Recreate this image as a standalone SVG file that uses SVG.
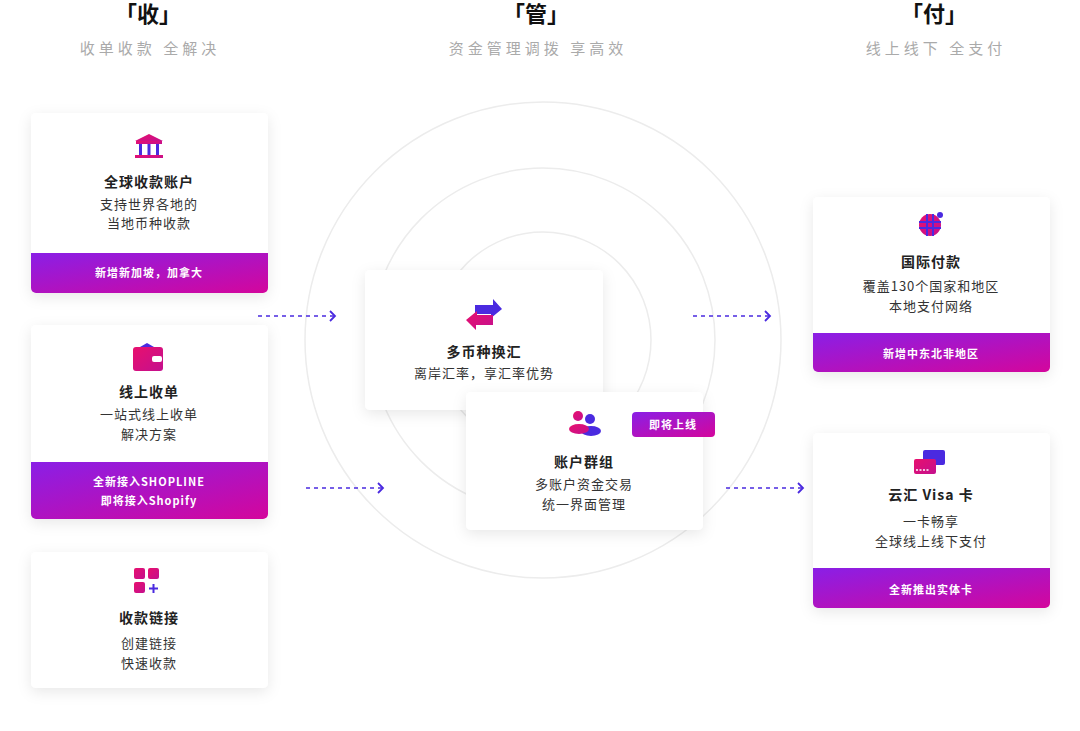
<svg xmlns="http://www.w3.org/2000/svg" width="1080" height="731" viewBox="0 0 1080 731">
<defs>
<linearGradient id="g" x1="0" y1="0" x2="1" y2="1"><stop offset="0" stop-color="#8a1fe6"/><stop offset="1" stop-color="#d4069c"/></linearGradient>
<linearGradient id="ic" x1="0" y1="0" x2="1" y2="1"><stop offset="0" stop-color="#e8106e"/><stop offset="1" stop-color="#c4108e"/></linearGradient>
<filter id="sh" x="-20%" y="-20%" width="140%" height="150%"><feDropShadow dx="0" dy="4" stdDeviation="7" flood-color="#000" flood-opacity="0.09"/></filter>
<marker id="ar" markerWidth="10" markerHeight="12" refX="7" refY="6" orient="auto" markerUnits="userSpaceOnUse"><path d="M2,1 L7,6 L2,11" fill="none" stroke="#4a2ae0" stroke-width="1.8"/></marker>
<style>
text{font-family:"Noto Sans CJK SC","Noto Sans",sans-serif;text-anchor:middle}
.h{font-size:22px;font-weight:700;fill:#111}
.s{font-size:15px;fill:#aaa;letter-spacing:4px}
.t{font-size:14px;font-weight:700;fill:#222;letter-spacing:1px}
.d{font-size:13px;fill:#333;letter-spacing:1px}
.f{font-size:11px;font-weight:700;fill:#fff;letter-spacing:1px}
.c{fill:#fff;filter:url(#sh)}
.r{fill:none;stroke:#ececec;stroke-width:1.5}
.cn{stroke:#4a2ae0;stroke-width:1.5;stroke-dasharray:4 4;fill:none;marker-end:url(#ar)}
</style>
</defs>
<rect width="1080" height="731" fill="#fff"/>
<g id="headers">
<text class="h" x="148" y="22">「收」</text><text class="s" x="150" y="54">收单收款 全解决</text>
<text class="h" x="536" y="22">「管」</text><text class="s" x="538" y="54">资金管理调拨 享高效</text>
<text class="h" x="934" y="22">「付」</text><text class="s" x="936" y="54">线上线下 全支付</text>
</g>
<g id="rings"><circle class="r" cx="543" cy="340" r="238"/><circle class="r" cx="543" cy="340" r="172"/><circle class="r" cx="543" cy="340" r="108"/></g>
<g id="connectors">
<path class="cn" d="M258,316 H335"/><path class="cn" d="M306,488 H383"/>
<path class="cn" d="M693,316 H770"/><path class="cn" d="M726,488 H803"/>
</g>
<g id="n1"><rect class="c" x="31" y="113" width="237" height="180" rx="5"/>
<path d="M31,253 H268 V288 a5,5 0 0 1 -5,5 H36 a5,5 0 0 1 -5,-5 Z" fill="url(#g)"/>
<path d="M135,141 L149,134 L163,141 Z" fill="url(#ic)"/><rect x="136" y="141" width="26" height="3" fill="url(#ic)"/><rect x="139" y="144" width="3" height="11" fill="#4a2ae0"/><rect x="147.5" y="144" width="3" height="11" fill="#4a2ae0"/><rect x="156" y="144" width="3" height="11" fill="#4a2ae0"/><rect x="135" y="155" width="28" height="3" fill="url(#ic)"/>
<text class="t" x="149" y="187">全球收款账户</text><text class="d" x="149" y="209">支持世界各地的</text><text class="d" x="149" y="228">当地币种收款</text>
<text class="f" x="149" y="277">新增新加坡，加拿大</text></g>
<g id="n2"><rect class="c" x="31" y="325" width="237" height="194" rx="5"/>
<path d="M31,462 H268 V514 a5,5 0 0 1 -5,5 H36 a5,5 0 0 1 -5,-5 Z" fill="url(#g)"/>
<rect x="133" y="347" width="30" height="24" rx="3" fill="url(#ic)"/><path d="M140,347 L147,343 L154,347Z" fill="#4a2ae0"/><rect x="152" y="356" width="10" height="6" rx="2" fill="#fff"/>
<text class="t" x="149" y="397">线上收单</text><text class="d" x="149" y="419">一站式线上收单</text><text class="d" x="149" y="439">解决方案</text>
<text class="f" x="149" y="486">全新接入SHOPLINE</text><text class="f" x="149" y="505">即将接入Shopify</text></g>
<g id="n3"><rect class="c" x="31" y="552" width="237" height="136" rx="5"/>
<rect x="134" y="568" width="11" height="11" rx="2" fill="url(#ic)"/><rect x="148" y="568" width="11" height="11" rx="2" fill="url(#ic)"/><rect x="134" y="582" width="11" height="11" rx="2" fill="url(#ic)"/><path d="M153.5,584 V593 M149,588.5 H158" stroke="#4a2ae0" stroke-width="2"/>
<text class="t" x="149" y="623">收款链接</text><text class="d" x="149" y="648">创建链接</text><text class="d" x="149" y="668">快速收款</text></g>
<g id="n4"><rect class="c" x="365" y="270" width="238" height="140" rx="5"/>
<path d="M475,305 H493 V299 L502,309 L491,318 V314 H475Z" fill="#4a2ae0"/><path d="M493,315 H477 V311 L466,320 L476,330 V325 H493Z" fill="url(#ic)"/>
<text class="t" x="484" y="357">多币种换汇</text><text class="d" x="484" y="378">离岸汇率，享汇率优势</text></g>
<g id="n5"><rect class="c" x="466" y="392" width="237" height="138" rx="5"/>
<circle cx="578" cy="416" r="5" fill="url(#ic)"/><circle cx="590" cy="419" r="5" fill="#4a2ae0"/><ellipse cx="591" cy="431" rx="10" ry="5" fill="#4a2ae0"/><ellipse cx="579" cy="429" rx="10" ry="5" fill="url(#ic)"/>
<text class="t" x="584" y="467">账户群组</text><text class="d" x="584" y="489">多账户资金交易</text><text class="d" x="584" y="509">统一界面管理</text>
<g id="badge"><rect x="632" y="412" width="83" height="25" rx="4" fill="url(#g)"/><text class="f" x="673" y="429">即将上线</text></g></g>
<g id="n6"><rect class="c" x="813" y="197" width="237" height="175" rx="5"/>
<path d="M813,333 H1050 V367 a5,5 0 0 1 -5,5 H818 a5,5 0 0 1 -5,-5 Z" fill="url(#g)"/>
<circle cx="930" cy="225" r="11" fill="url(#ic)"/><path d="M919,222 H941 M919,228 H941 M927,214 V236 M933,214 V236" stroke="#4a2ae0" stroke-width="2"/><circle cx="940" cy="215" r="3" fill="#4a2ae0"/>
<text class="t" x="931" y="267">国际付款</text><text class="d" x="931" y="291">覆盖130个国家和地区</text><text class="d" x="931" y="311">本地支付网络</text>
<text class="f" x="931" y="358">新增中东北非地区</text></g>
<g id="n7"><rect class="c" x="813" y="433" width="237" height="175" rx="5"/>
<path d="M813,568 H1050 V603 a5,5 0 0 1 -5,5 H818 a5,5 0 0 1 -5,-5 Z" fill="url(#g)"/>
<rect x="923" y="450" width="22" height="15" rx="2" fill="#4a2ae0"/><rect x="914" y="459" width="22" height="15" rx="2" fill="url(#ic)"/><path d="M916,470 H930" stroke="#fff" stroke-width="1.5" stroke-dasharray="2 1.5"/>
<text class="t" x="931" y="500">云汇 Visa 卡</text><text class="d" x="931" y="526">一卡畅享</text><text class="d" x="931" y="546">全球线上线下支付</text>
<text class="f" x="931" y="594">全新推出实体卡</text></g>
</svg>
